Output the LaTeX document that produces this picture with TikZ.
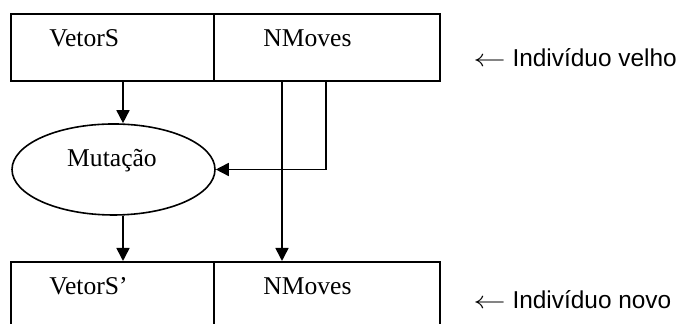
\documentclass[tikz,border=0pt]{standalone}
\usepackage{fontspec}
\setmainfont{Liberation Serif}
\newfontfamily\arialfont{Liberation Sans}
\usetikzlibrary{arrows.meta,shapes.geometric}
\begin{document}
\begin{tikzpicture}[x=0.5pt,y=-0.5pt,
  cell/.style={draw,line width=0.8pt,rectangle,minimum height=33.5pt,anchor=north west,inner sep=0pt},
  txt/.style={font=\fontsize{12.8}{14}\selectfont,anchor=base west,inner sep=0pt},
  side/.style={font=\arialfont\fontsize{12.2}{14}\selectfont,anchor=base west,inner sep=0pt},
  arr/.style={line width=0.8pt,-{Triangle[length=6.5pt,width=6.5pt]}}]
\useasboundingbox (0,0) rectangle (682,324);
% old individual
\node[cell,minimum width=101.5pt](oldS) at (10,13){};
\node[cell,minimum width=113pt](oldN) at (213,13){};
\node[txt](tS) at (49,47){VetorS};
\node[txt](tN) at (263,47){NMoves};
% mutation
\node[draw,line width=0.8pt,ellipse,minimum width=101.5pt,minimum height=45.5pt,inner sep=0pt](mut) at (113.5,169.5){};
\node[txt,anchor=base](tM) at (112,167){Mutação};
% new individual
\node[cell,minimum width=101.5pt](newS) at (10,261){};
\node[cell,minimum width=113pt](newN) at (213,261){};
\node[txt](tS2) at (49,295){VetorS’};
\node[txt](tN2) at (263,295){NMoves};
% columns of the arrows
\coordinate (colS) at (123,0);
\coordinate (colN) at (282,0);
\coordinate (colR) at (326,0);
\draw[arr] (oldS.south -| colS) -- (mut.north -| colS);
\draw[arr] (mut.south -| colS) -- (newS.north -| colS);
\draw[arr] (oldN.south -| colN) -- (newN.north -| colN);
\draw[arr] (oldN.south -| colR) |- (mut.east);
% side notes
\node[side](lOld) at (473,67){\scalebox{1.35}[1]{$\leftarrow$} Indivíduo velho};
\node[side](lNew) at (473,309){\scalebox{1.35}[1]{$\leftarrow$} Indivíduo novo};
\end{tikzpicture}
\end{document}
